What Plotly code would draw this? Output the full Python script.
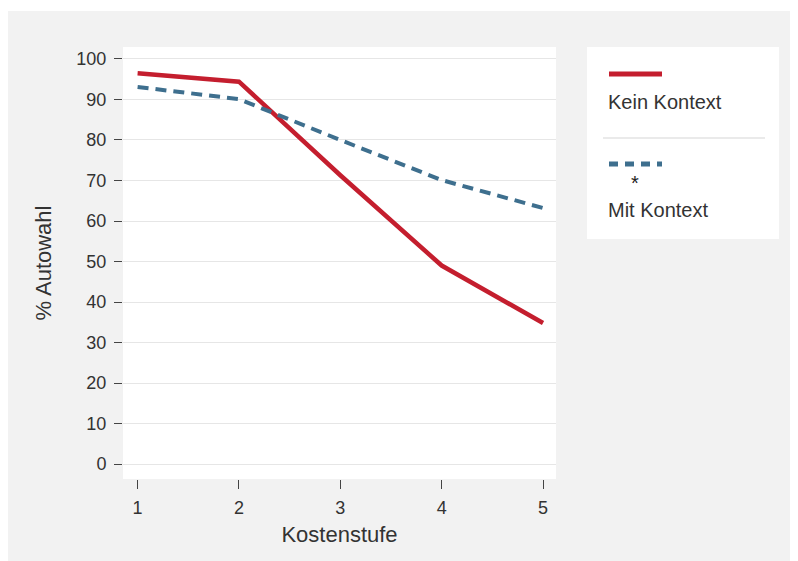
import plotly.graph_objects as go

kostenstufe = [1, 2, 3, 4, 5]
kein_kontext = [96.5, 94.4, 71.3, 49.0, 34.8]
mit_kontext = [93.1, 90.1, 80.0, 70.1, 63.2]
y_ticks = [0, 10, 20, 30, 40, 50, 60, 70, 80, 90, 100]

RED = "#c41e2e"
BLUE = "#3e6f8e"
FONT = "Liberation Sans, Arial, sans-serif"

OFF = 8  # page body margin
W, H = 798 - OFF, 561 - OFF
L, R, T, B = 123 - OFF, 556 - OFF, 47 - OFF, 479 - OFF

def px(x):
    return (x - OFF - L) / (R - L)

def py(y):
    return (B - (y - OFF)) / (B - T)

fig = go.Figure()
fig.add_trace(go.Scatter(x=kostenstufe, y=kein_kontext, mode="lines",
                         line=dict(color=RED, width=4.5), name="Kein Kontext",
                         showlegend=False))
fig.add_trace(go.Scatter(x=kostenstufe, y=mit_kontext, mode="lines",
                         line=dict(color=BLUE, width=4, dash="11px,7px"),
                         name="Mit Kontext", showlegend=False))

shapes = [
    dict(type="rect", xref="paper", yref="paper", x0=px(7), x1=px(805), y0=py(11), y1=py(570),
         fillcolor="#f2f2f2", line=dict(width=0), layer="below"),
    dict(type="rect", xref="paper", yref="paper", x0=0, x1=1, y0=0, y1=1,
         fillcolor="white", line=dict(width=0), layer="below"),
    dict(type="rect", xref="paper", yref="paper", x0=px(587), x1=px(779), y0=py(47), y1=py(239),
         fillcolor="white", line=dict(width=0), layer="below"),
    dict(type="line", xref="paper", yref="paper", x0=px(603), x1=px(765), y0=py(138), y1=py(138),
         line=dict(color="#e3e3e3", width=1.5)),
    dict(type="line", xref="paper", yref="paper", x0=px(609), x1=px(662), y0=py(74), y1=py(74),
         line=dict(color=RED, width=5)),
    dict(type="line", xref="paper", yref="paper", x0=px(609), x1=px(662), y0=py(164), y1=py(164),
         line=dict(color=BLUE, width=5, dash="9px,7px")),
]

annotations = [
    dict(text="Kein Kontext", xref="paper", yref="paper", x=px(606), y=py(102),
         xanchor="left", yanchor="middle", showarrow=False,
         font=dict(family=FONT, size=20, color="#333333")),
    dict(text="*", xref="paper", yref="paper", x=px(635), y=py(183),
         xanchor="center", yanchor="middle", showarrow=False,
         font=dict(family=FONT, size=20, color="#222222")),
    dict(text="Mit Kontext", xref="paper", yref="paper", x=px(606), y=py(210),
         xanchor="left", yanchor="middle", showarrow=False,
         font=dict(family=FONT, size=20, color="#333333")),
]

fig.update_layout(
    width=W, height=H,
    margin=dict(l=L, r=W - R, t=T, b=H - B, pad=0),
    paper_bgcolor="white",
    plot_bgcolor="rgba(0,0,0,0)",
    shapes=shapes,
    annotations=annotations,
    font=dict(family=FONT, size=18, color="#333333"),
    xaxis=dict(range=[0.856, 5.128], tickvals=kostenstufe, ticks="outside", ticklen=9,
               tickcolor="#444444", tickwidth=1.2, showgrid=False, zeroline=False,
               showline=False, tickfont=dict(size=18, color="#333333"),
               ticklabelstandoff=3,
               title=dict(text="Kostenstufe", font=dict(size=22, color="#333333"), standoff=10)),
    yaxis=dict(range=[-3.7, 102.96], tickvals=y_ticks, ticks="outside", ticklen=8,
               tickcolor="#444444", tickwidth=1.2, showgrid=True, gridcolor="#e6e6e6",
               gridwidth=1.2, zeroline=False, showline=False,
               tickfont=dict(size=18, color="#333333"), ticklabelstandoff=4,
               title=dict(text="% Autowahl", font=dict(size=22, color="#333333"), standoff=18)),
)

fig.write_html("out.html")
